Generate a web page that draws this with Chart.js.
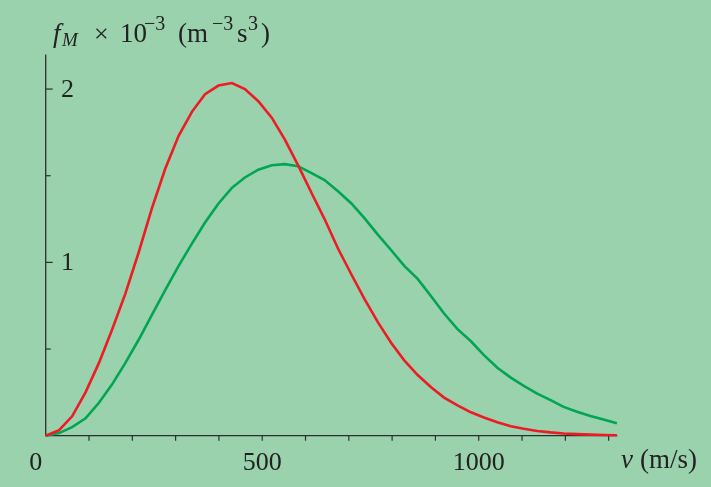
<!DOCTYPE html>
<html>
<head>
<meta charset="utf-8">
<script src="https://cdn.jsdelivr.net/npm/chart.js@4.4.1/dist/chart.umd.min.js"></script>
<style>
  body { margin: 0; background: #9ad2ad; }
  #grafico { display: block; }
</style>
</head>
<body>
<canvas id="grafico" width="711" height="487"></canvas>
<script>
// Velocidades (m/s)
const velocidades = [0, 31, 61, 92, 123, 153, 184, 215, 245, 276, 307, 338, 368, 399, 430, 460, 491, 522,
  552, 583, 614, 644, 675, 706, 736, 767, 798, 828, 859, 890, 920, 951, 982, 1012, 1043, 1074, 1104,
  1135, 1166, 1196, 1227, 1258, 1288, 1319];

// Curva vermelha (temperatura menor)
const fVermelho = [0, 0.032, 0.112, 0.25, 0.42, 0.61, 0.82, 1.06, 1.31, 1.54, 1.73, 1.87, 1.97, 2.02, 2.035,
  2.00, 1.93, 1.835, 1.71, 1.56, 1.40, 1.25, 1.08, 0.93, 0.79, 0.655, 0.535, 0.435, 0.35, 0.28, 0.22,
  0.175, 0.135, 0.105, 0.078, 0.055, 0.04, 0.027, 0.019, 0.013, 0.009, 0.006, 0.004, 0.003];

// Curva verde (temperatura maior)
const fVerde = [0, 0.015, 0.049, 0.10, 0.19, 0.295, 0.42, 0.555, 0.696, 0.84, 0.98, 1.11, 1.23, 1.34, 1.43,
  1.49, 1.535, 1.56, 1.567, 1.555, 1.515, 1.475, 1.41, 1.34, 1.255, 1.16, 1.07, 0.98, 0.905, 0.805,
  0.705, 0.615, 0.545, 0.465, 0.392, 0.335, 0.287, 0.243, 0.205, 0.166, 0.138, 0.114, 0.093, 0.072];

// Marcas dos eixos
const ticksX = [0, 500, 1000];
const ticksMenoresX = [100, 200, 300, 400, 500, 600, 700, 800, 900, 1000, 1100, 1200, 1300];
const ticksY = [1, 2];
const ticksMenoresY = [0.5, 1.5];

const corEixo = '#2e2e2e';
const fonte = '"Liberation Serif", "DejaVu Serif", serif';

function pontos(valores) {
  return velocidades.map((v, i) => ({ x: v, y: valores[i] }));
}

// Escreve um texto em pedaços, cada um na sua posição
function escrever(ctx, partes, yBase) {
  partes.forEach(p => {
    ctx.font = (p.italico ? 'italic ' : '') + p.tam + 'px ' + fonte;
    ctx.fillText(p.t, p.x, yBase + (p.dy || 0));
  });
}

const fundoPlugin = {
  id: 'fundo',
  beforeDraw(chart) {
    const ctx = chart.ctx;
    ctx.save();
    ctx.fillStyle = '#9ad2ad';
    ctx.fillRect(0, 0, chart.width, chart.height);
    ctx.restore();
  }
};

const eixosPlugin = {
  id: 'eixos',
  beforeDatasetsDraw(chart) {
    const ctx = chart.ctx;
    const sx = chart.scales.x, sy = chart.scales.y;
    const x0 = sx.getPixelForValue(0), y0 = sy.getPixelForValue(0);
    ctx.save();
    ctx.strokeStyle = corEixo;
    ctx.lineWidth = 1.3;
    ctx.beginPath();
    ctx.moveTo(x0, sy.getPixelForValue(sy.max));
    ctx.lineTo(x0, y0);
    ctx.lineTo(sx.getPixelForValue(sx.max), y0);
    ctx.stroke();

    ctx.lineWidth = 1.2;
    ticksMenoresX.forEach(v => {
      const px = sx.getPixelForValue(v);
      ctx.beginPath();
      ctx.moveTo(px, y0);
      ctx.lineTo(px, y0 + 5);
      ctx.stroke();
    });
    ticksY.forEach(v => {
      const py = sy.getPixelForValue(v);
      ctx.beginPath();
      ctx.moveTo(x0, py);
      ctx.lineTo(x0 + 7, py);
      ctx.stroke();
    });
    ticksMenoresY.forEach(v => {
      const py = sy.getPixelForValue(v);
      ctx.beginPath();
      ctx.moveTo(x0, py);
      ctx.lineTo(x0 + 5, py);
      ctx.stroke();
    });
    ctx.restore();
  },
  afterDraw(chart) {
    const ctx = chart.ctx;
    const sx = chart.scales.x, sy = chart.scales.y;
    ctx.save();
    ctx.fillStyle = '#222';
    ctx.font = '26px ' + fonte;
    ctx.textAlign = 'center';
    ctx.textBaseline = 'alphabetic';
    ticksX.forEach(v => {
      let px = sx.getPixelForValue(v);
      if (v === 0) px -= 10;
      ctx.fillText(String(v), px, 470);
    });
    ctx.textBaseline = 'middle';
    ticksY.forEach(v => {
      ctx.fillText(String(v), 67.5, sy.getPixelForValue(v) + 1);
    });

    // Título do eixo y
    ctx.textAlign = 'left';
    ctx.textBaseline = 'alphabetic';
    escrever(ctx, [
      { t: 'f', x: 53, tam: 27, italico: true },
      { t: 'M', x: 62, tam: 19, italico: true, dy: 4 },
      { t: '×', x: 94, tam: 26 },
      { t: '10', x: 120, tam: 27 },
      { t: '−3', x: 144, tam: 20, dy: -12 },
      { t: '(m', x: 178, tam: 27 },
      { t: '−3', x: 212, tam: 20, dy: -12 },
      { t: 's', x: 237, tam: 27 },
      { t: '3', x: 248, tam: 20, dy: -12 },
      { t: ')', x: 261, tam: 27 }
    ], 42);

    // Título do eixo x
    escrever(ctx, [
      { t: 'v', x: 621, tam: 27, italico: true },
      { t: '(m/s)', x: 640, tam: 27 }
    ], 468);
    ctx.restore();
  }
};

new Chart(document.getElementById('grafico').getContext('2d'), {
  type: 'line',
  data: {
    datasets: [{
      data: pontos(fVermelho),
      borderColor: '#ed1c24',
      borderWidth: 2.6,
      pointRadius: 0,
      tension: 0,
      fill: false,
      clip: false
    }, {
      data: pontos(fVerde),
      borderColor: '#00a651',
      borderWidth: 2.6,
      pointRadius: 0,
      tension: 0,
      fill: false,
      clip: false
    }]
  },
  options: {
    responsive: false,
    animation: false,
    layout: { padding: { left: 45.7, right: 93.7, top: 54.4, bottom: 51.3 } },
    scales: {
      x: { type: 'linear', min: 0, max: 1320, display: false },
      y: { min: 0, max: 2.2, display: false }
    },
    plugins: {
      legend: { display: false },
      tooltip: { enabled: false }
    }
  },
  plugins: [fundoPlugin, eixosPlugin]
});
</script>
</body>
</html>
